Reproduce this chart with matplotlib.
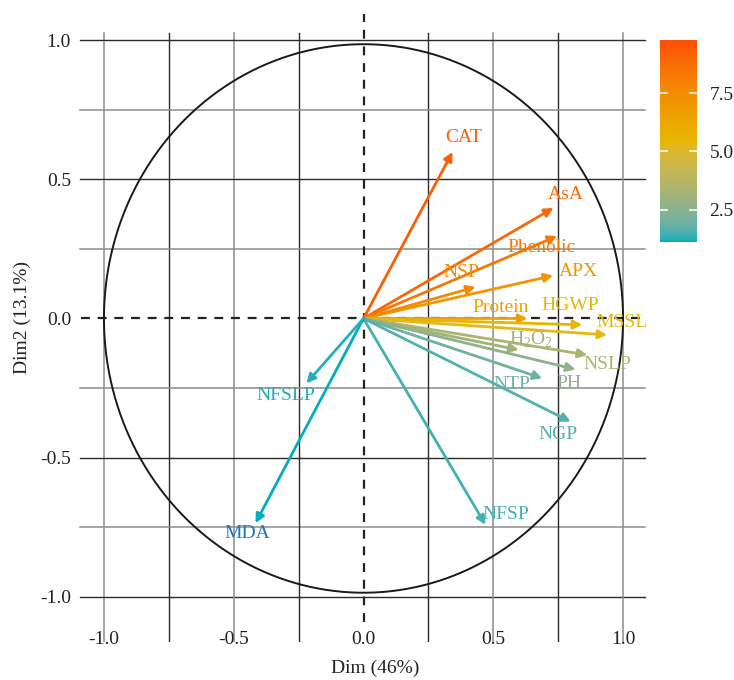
import numpy as np
import matplotlib
matplotlib.use("Agg")
import matplotlib.pyplot as plt
from matplotlib.colors import ListedColormap, Normalize, to_rgb
from matplotlib.cm import ScalarMappable

plt.rcParams["font.family"] = ["Liberation Serif", "DejaVu Serif"]
plt.rcParams["mathtext.fontset"] = "custom"
plt.rcParams["mathtext.rm"] = "Liberation Serif"

# PCA variable coordinates (Dim1, Dim2) and their contributions
variables = ["CAT", "AsA", "Phenolic", "APX", "NSP", "Protein", "HGWP", "MSSL",
             "H2O2", "NSLP", "PH", "NTP", "NGP", "NFSP", "MDA", "NFSLP"]
dim1 = [0.343, 0.732, 0.746, 0.731, 0.432, 0.632, 0.843, 0.939,
        0.598, 0.862, 0.817, 0.689, 0.798, 0.470, -0.416, -0.220]
dim2 = [0.598, 0.397, 0.296, 0.154, 0.113, 0.000, -0.023, -0.059,
        -0.113, -0.131, -0.183, -0.215, -0.371, -0.741, -0.735, -0.233]
contrib = [9.3, 9.0, 8.3, 7.1, 7.6, 6.6, 5.6, 5.3,
           3.1, 3.4, 2.6, 2.0, 1.6, 1.45, 1.15, 1.25]
display_names = {"H2O2": r"H$_\mathregular{2}$O$_\mathregular{2}$"}
label_color_override = {"MDA": "#1b78be"}

# label placement relative to arrow tips, in pixels
label_offsets = {
    "CAT": (11, 14), "AsA": (12, 13), "Phenolic": (-16, -11), "APX": (25, 4),
    "NSP": (-14, 14), "Protein": (-27, 11), "HGWP": (-12, 19), "MSSL": (15, 12),
    "H2O2": (12, 10), "NSLP": (20, -10), "PH": (-7, -14), "NTP": (-30, -6),
    "NGP": (-13, -13), "NFSP": (20, 10), "MDA": (-8, -10), "NFSLP": (-21, -12),
}

gradient_colors = ["#00AFBB", "#E7B800", "#FC4E07"]
cbar_ticks = [2.5, 5.0, 7.5]
c_min, c_max = 1.12, 9.78


# --- colour gradient interpolated in CIE Lab space ---
def _srgb_to_lab(rgb):
    rgb = np.asarray(rgb, float)
    lin = np.where(rgb <= 0.04045, rgb / 12.92, ((rgb + 0.055) / 1.055) ** 2.4)
    m = np.array([[0.4124, 0.3576, 0.1805],
                  [0.2126, 0.7152, 0.0722],
                  [0.0193, 0.1192, 0.9505]])
    xyz = m @ lin / np.array([0.95047, 1.0, 1.08883])
    f = np.where(xyz > 0.008856, np.cbrt(xyz), 7.787 * xyz + 16 / 116)
    return np.array([116 * f[1] - 16, 500 * (f[0] - f[1]), 200 * (f[1] - f[2])])


def _lab_to_srgb(lab):
    L, a, b = lab
    fy = (L + 16) / 116
    fx = fy + a / 500
    fz = fy - b / 200
    f = np.array([fx, fy, fz])
    xyz = np.where(f ** 3 > 0.008856, f ** 3, (f - 16 / 116) / 7.787)
    xyz *= np.array([0.95047, 1.0, 1.08883])
    m = np.array([[3.2406, -1.5372, -0.4986],
                  [-0.9689, 1.8758, 0.0415],
                  [0.0557, -0.2040, 1.0570]])
    lin = m @ xyz
    rgb = np.where(lin <= 0.0031308, 12.92 * lin, 1.055 * np.clip(lin, 0, None) ** (1 / 2.4) - 0.055)
    return np.clip(rgb, 0, 1)


def lab_gradient(colors, n=256):
    labs = [_srgb_to_lab(to_rgb(c)) for c in colors]
    stops = np.linspace(0, 1, len(colors))
    out = []
    for t in np.linspace(0, 1, n):
        i = min(np.searchsorted(stops, t, side="right") - 1, len(colors) - 2)
        u = (t - stops[i]) / (stops[i + 1] - stops[i])
        out.append(_lab_to_srgb((1 - u) * labs[i] + u * labs[i + 1]))
    return ListedColormap(out)


W, H = 734, 680
fig = plt.figure(figsize=(W / 100, H / 100), dpi=100)
ax = fig.add_axes([78 / W, 1 - 642 / H, 571 / W, 612 / H])
ax.set_xlim(-1.1, 1.1)
ax.set_ylim(-1.162, 1.036)
for s in ax.spines.values():
    s.set_visible(False)

# grid: vertical majors grey / minors dark, horizontal the other way round
majors = [-1.0, -0.5, 0.5, 1.0]
minors = [-0.75, -0.25, 0.25, 0.75]
for v in majors:
    ax.axvline(v, color="#8c8c8c", lw=1.1, ymax=0.995, zorder=0)
    ax.axhline(v, color="#2a2a2a", lw=1.0, xmin=0.004, xmax=0.993, zorder=0)
for v in minors:
    ax.axvline(v, color="#2a2a2a", lw=1.0, ymax=0.995, zorder=0)
    ax.axhline(v, color="#8c8c8c", lw=1.1, xmin=0.004, xmax=0.993, zorder=0)
ax.plot([0, 0], [-1.09, 1.093], color="#222222", lw=1.6, ls=(0, (4, 3.5)),
        clip_on=False, zorder=1)
ax.plot([-1.09, 1.085], [0, 0], color="#222222", lw=1.6, ls=(0, (4, 3.5)), zorder=1)

# correlation circle
t = np.linspace(0, 2 * np.pi, 400)
ax.plot(np.cos(t), 0.985 * np.sin(t), color="#1a1a1a", lw=1.4, zorder=2)

cmap = lab_gradient(gradient_colors)
norm = Normalize(vmin=c_min, vmax=c_max)

for name, x, y, c in zip(variables, dim1, dim2, contrib):
    col = cmap(norm(c))
    ax.annotate("", xy=(x, y), xytext=(0, 0),
                arrowprops=dict(arrowstyle="-|>", color=col, lw=2.0,
                                mutation_scale=13, shrinkA=0, shrinkB=0),
                zorder=3)
    dx, dy = label_offsets[name]
    ax.annotate(display_names.get(name, name), xy=(x, y), xytext=(dx, dy),
                textcoords="offset pixels", ha="center", va="center",
                fontsize=14, color=label_color_override.get(name, col), zorder=4)

ax.set_xticks([-1.0, -0.5, 0.0, 0.5, 1.0])
ax.set_yticks([-1.0, -0.5, 0.0, 0.5, 1.0])
ax.set_xticklabels(["-1.0", "-0.5", "0.0", "0.5", "1.0"])
ax.set_yticklabels(["-1.0", "-0.5", "0.0", "0.5", "1.0"])
ax.tick_params(axis="x", length=0, pad=-8, labelsize=14, colors="#222222")
ax.tick_params(axis="y", length=0, pad=5, labelsize=14, colors="#222222")

fig.text(375 / W, 1 - 668 / H, "Dim (46%)", ha="center", va="center",
         fontsize=14, color="#222222")
fig.text(22 / W, 1 - 318 / H, "Dim2 (13.1%)", ha="center", va="center",
         rotation=90, fontsize=14, color="#222222")

# colour bar
cax = fig.add_axes([660 / W, 1 - 242 / H, 37 / W, 202 / H])
sm = ScalarMappable(norm=norm, cmap=cmap)
cb = fig.colorbar(sm, cax=cax, ticks=cbar_ticks)
cb.outline.set_visible(False)
cb.ax.tick_params(length=0, pad=9, labelsize=14, colors="#222222")
cb.ax.set_yticklabels(["2.5", "5.0", "7.5"])
for v in cbar_ticks:
    cax.plot([0, 0.2], [v, v], color="white", lw=1.2, transform=cax.get_yaxis_transform())
    cax.plot([0.8, 1.0], [v, v], color="white", lw=1.2, transform=cax.get_yaxis_transform())

fig.savefig("out.png", dpi=100)
